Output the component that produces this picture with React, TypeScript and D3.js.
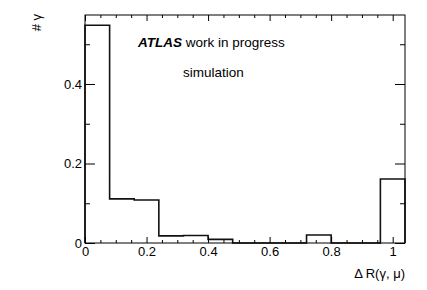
import React, { useEffect, useRef } from 'react';
import * as d3 from 'd3';

// bin edges of the ΔR histogram
const binEdges = [0, 0.08, 0.16, 0.24, 0.32, 0.4, 0.48, 0.56, 0.64, 0.72, 0.8, 0.88, 0.96, 1.04];
// normalised photon counts per bin
const binValues = [0.548, 0.111, 0.108, 0.018, 0.019, 0.009, 0, 0, 0, 0.02, 0, 0, 0.161];

const xMajorTicks = [0, 0.2, 0.4, 0.6, 0.8, 1];
const xMinorTicks = [0.05, 0.1, 0.15, 0.25, 0.3, 0.35, 0.45, 0.5, 0.55, 0.65, 0.7, 0.75, 0.85, 0.9, 0.95];
const yMajorTicks = [0, 0.2, 0.4];
const yMinorTicks = [0.1, 0.3, 0.5];
const yMax = 0.5736;

const FONT = '"Liberation Sans", Arial, Helvetica, sans-serif';

const App = () => {
  const svgRef = useRef<SVGSVGElement>(null);

  useEffect(() => {
    const svg = d3.select(svgRef.current);
    svg.selectAll('*').remove();

    const W = 427;
    const H = 290;
    const margin = { top: 15, right: 22, bottom: 47, left: 85 };
    const width = W - margin.left - margin.right;
    const height = H - margin.top - margin.bottom;

    svg.attr('width', W).attr('height', H);

    const g = svg.append('g').attr('transform', `translate(${margin.left},${margin.top})`);

    const x = d3.scaleLinear().domain([0, binEdges[binEdges.length - 1]]).range([0, width]);
    const y = d3.scaleLinear().domain([0, yMax]).range([height, 0]);

    // histogram outline
    const pts: [number, number][] = [[binEdges[0], 0]];
    binValues.forEach((v, i) => {
      pts.push([binEdges[i], v]);
      pts.push([binEdges[i + 1], v]);
    });
    pts.push([binEdges[binEdges.length - 1], 0]);

    const line = d3.line<[number, number]>()
      .x(d => x(d[0]))
      .y(d => y(d[1]));

    g.append('path')
      .attr('d', line(pts))
      .attr('fill', 'none')
      .attr('stroke', '#111')
      .attr('stroke-width', 1.6);

    const styleAxis = (sel: any, labels: boolean) => {
      sel.select('.domain').remove();
      sel.selectAll('line').attr('stroke', '#000').attr('stroke-width', 1);
      if (labels) {
        sel.selectAll('text').attr('font-family', FONT).attr('font-size', 13).attr('fill', '#000');
      } else {
        sel.selectAll('text').remove();
      }
    };

    // bottom axis
    g.append('g').attr('transform', `translate(0,${height})`)
      .call(d3.axisBottom(x).tickValues(xMajorTicks).tickSizeInner(-6).tickSizeOuter(0).tickPadding(4)
        .tickFormat(d => d3.format('~g')(d as number)))
      .call(s => styleAxis(s, true));
    g.append('g').attr('transform', `translate(0,${height})`)
      .call(d3.axisBottom(x).tickValues(xMinorTicks).tickSizeInner(-3).tickSizeOuter(0))
      .call(s => styleAxis(s, false));

    // top axis
    g.append('g')
      .call(d3.axisTop(x).tickValues(xMajorTicks).tickSizeInner(-6).tickSizeOuter(0))
      .call(s => styleAxis(s, false));
    g.append('g')
      .call(d3.axisTop(x).tickValues(xMinorTicks).tickSizeInner(-3).tickSizeOuter(0))
      .call(s => styleAxis(s, false));

    // left axis
    g.append('g')
      .call(d3.axisLeft(y).tickValues(yMajorTicks).tickSizeInner(-10).tickSizeOuter(0).tickPadding(3)
        .tickFormat(d => d3.format('~g')(d as number)))
      .call(s => styleAxis(s, true));
    g.append('g')
      .call(d3.axisLeft(y).tickValues(yMinorTicks).tickSizeInner(-5).tickSizeOuter(0))
      .call(s => styleAxis(s, false));

    // right axis
    g.append('g').attr('transform', `translate(${width},0)`)
      .call(d3.axisRight(y).tickValues(yMajorTicks).tickSizeInner(-10).tickSizeOuter(0))
      .call(s => styleAxis(s, false));
    g.append('g').attr('transform', `translate(${width},0)`)
      .call(d3.axisRight(y).tickValues(yMinorTicks).tickSizeInner(-5).tickSizeOuter(0))
      .call(s => styleAxis(s, false));

    // frame
    g.append('rect')
      .attr('width', width)
      .attr('height', height)
      .attr('fill', 'none')
      .attr('stroke', '#000')
      .attr('stroke-width', 1);

    // axis titles
    svg.append('text')
      .attr('x', W - margin.right)
      .attr('y', 278)
      .attr('text-anchor', 'end')
      .attr('font-family', FONT)
      .attr('font-size', 13)
      .text('Δ R(γ, μ)');

    svg.append('text')
      .attr('transform', 'translate(41,14) rotate(-90)')
      .attr('text-anchor', 'end')
      .attr('font-family', FONT)
      .attr('font-size', 13)
      .text('# γ');

    // labels
    const atlas = svg.append('text')
      .attr('x', 138)
      .attr('y', 47)
      .attr('font-family', FONT)
      .attr('font-size', 13.5);
    atlas.append('tspan').attr('font-weight', 'bold').attr('font-style', 'italic').text('ATLAS');
    atlas.append('tspan').text(' work in progress');

    svg.append('text')
      .attr('x', 183)
      .attr('y', 77)
      .attr('font-family', FONT)
      .attr('font-size', 13.5)
      .text('simulation');
  }, []);

  return (
    <svg ref={svgRef} style={{ position: 'absolute', left: 0, top: 0 }} aria-label="ΔR(γ, μ) histogram" />
  );
};

export default App;
